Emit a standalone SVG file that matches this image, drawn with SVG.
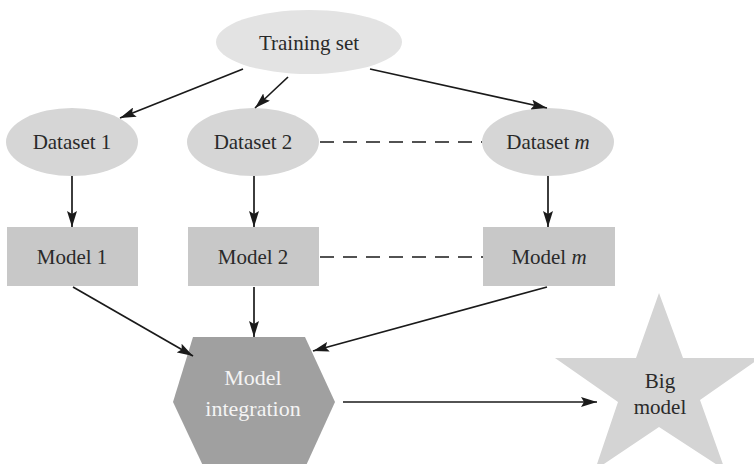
<svg xmlns="http://www.w3.org/2000/svg" width="754" height="464" viewBox="0 0 754 464">
<defs>
<marker id="ah" viewBox="0 0 16 10" refX="16" refY="5" markerWidth="16" markerHeight="10" markerUnits="userSpaceOnUse" orient="auto">
<path d="M0,0 L16,5 L0,10 L3,5 Z" fill="#1a1a1a"/>
</marker>
</defs>
<style>
text{font-family:"Liberation Serif","Times New Roman",serif;font-size:21px;fill:#2a2a2a;text-anchor:middle}
.ell{fill:#d6d6d6}
.box{fill:#c8c8c8}
.arr{stroke:#1a1a1a;stroke-width:1.7;fill:none;marker-end:url(#ah)}
.dash{stroke:#1a1a1a;stroke-width:1.7;fill:none;stroke-dasharray:14,9}
</style>
<rect width="754" height="464" fill="#ffffff"/>
<g id="training-set">
<ellipse cx="309" cy="42" rx="93" ry="32" fill="#e3e3e3"/>
<text x="309" y="50">Training set</text>
</g>
<g id="dataset-1">
<ellipse cx="72" cy="142" rx="66" ry="34" class="ell"/>
<text x="72" y="149">Dataset 1</text>
</g>
<g id="dataset-2">
<ellipse cx="253" cy="142" rx="66" ry="34" class="ell"/>
<text x="253" y="149">Dataset 2</text>
</g>
<g id="dataset-m">
<ellipse cx="548" cy="142" rx="66" ry="34" class="ell"/>
<text x="548" y="149">Dataset <tspan font-style="italic">m</tspan></text>
</g>
<g id="model-1">
<rect x="7" y="227" width="131" height="59" class="box"/>
<text x="72" y="264">Model 1</text>
</g>
<g id="model-2">
<rect x="188" y="227" width="131" height="59" class="box"/>
<text x="253" y="264">Model 2</text>
</g>
<g id="model-m">
<rect x="483" y="227" width="132" height="59" class="box"/>
<text x="549" y="264">Model <tspan font-style="italic">m</tspan></text>
</g>
<g id="model-integration">
<polygon points="193,337 305,337 335,402 304,470 205,470 173,402" fill="#a0a0a0"/>
<text x="253" y="385" style="fill:#f4f4f4;font-size:22px">Model</text>
<text x="253" y="416" style="fill:#f4f4f4;font-size:22px">integration</text>
</g>
<g id="big-model">
<polygon points="659,293 683,358 760,358 700,400 725,470 659,427 595,470 618,402 555,358 636,358" fill="#d4d4d4"/>
<text x="660" y="388">Big</text>
<text x="660" y="414">model</text>
</g>
<g id="connectors">
<line x1="243" y1="69" x2="120" y2="118" class="arr"/>
<line x1="288" y1="77" x2="255" y2="108" class="arr"/>
<line x1="370" y1="69" x2="547" y2="108" class="arr"/>
<line x1="72" y1="176" x2="72" y2="227" class="arr"/>
<line x1="254" y1="176" x2="254" y2="227" class="arr"/>
<line x1="548" y1="176" x2="548" y2="227" class="arr"/>
<line x1="320" y1="142" x2="482" y2="142" class="dash"/>
<line x1="320" y1="257" x2="483" y2="257" class="dash"/>
<line x1="73" y1="287" x2="193" y2="356" class="arr"/>
<line x1="254" y1="287" x2="254" y2="337" class="arr"/>
<line x1="547" y1="287" x2="313" y2="351" class="arr"/>
<line x1="343" y1="402" x2="597" y2="402" class="arr"/>
</g>
</svg>
